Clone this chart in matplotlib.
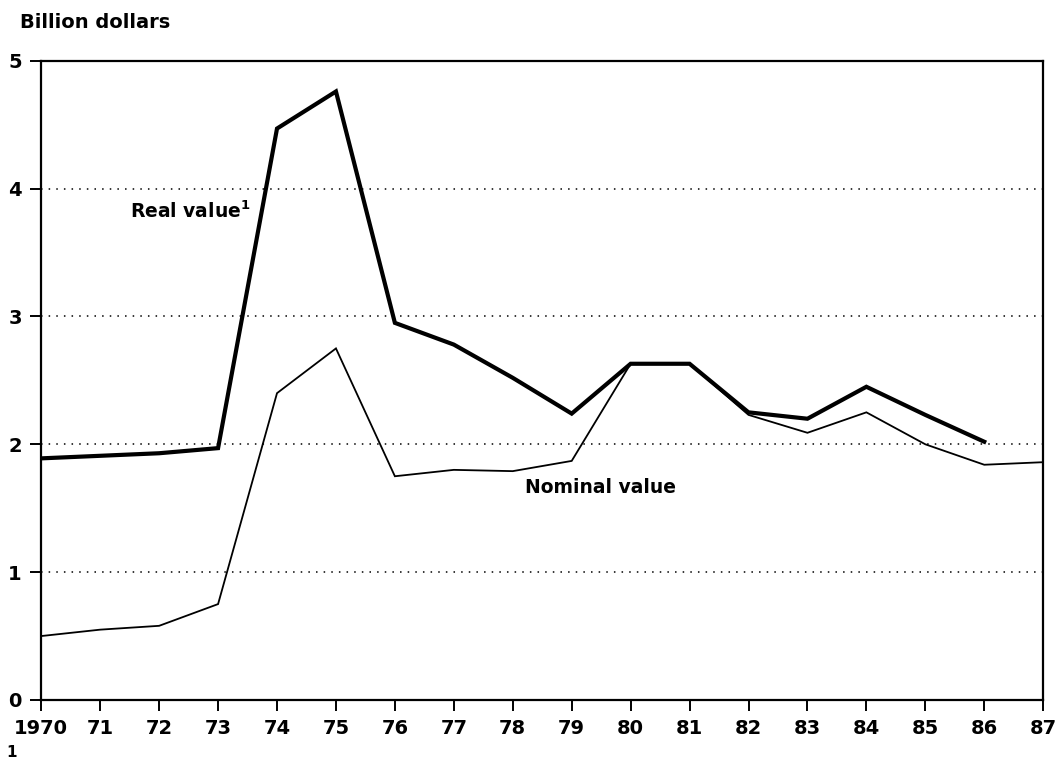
import matplotlib
matplotlib.use("Agg")
import matplotlib.pyplot as plt

years = list(range(1970, 1988))
tick_labels = ["1970", "71", "72", "73", "74", "75", "76", "77", "78", "79",
               "80", "81", "82", "83", "84", "85", "86", "87"]

real_years = list(range(1970, 1987))
real_value = [1.89, 1.91, 1.93, 1.97, 4.47, 4.76, 2.95, 2.78, 2.52, 2.24,
              2.63, 2.63, 2.25, 2.20, 2.45, 2.23, 2.02]

nominal_years = list(range(1970, 1988))
nominal_value = [0.50, 0.55, 0.58, 0.75, 2.40, 2.75, 1.75, 1.80, 1.79, 1.87,
                 2.63, 2.63, 2.23, 2.09, 2.25, 2.00, 1.84, 1.86]

y_ticks = [0, 1, 2, 3, 4, 5]

plt.rcParams['font.family'] = ['DejaVu Sans']

fig = plt.figure(figsize=(10.58, 7.60), dpi=100)
ax = fig.add_axes([0.039, 0.079, 0.947, 0.841])

ax.plot(nominal_years, nominal_value, color='black', lw=1.3, solid_joinstyle='miter')
ax.plot(real_years, real_value, color='black', lw=3.0, solid_joinstyle='miter')

ax.set_xlim(1970, 1987)
ax.set_ylim(0, 5)
ax.set_xticks(years)
ax.set_xticklabels(tick_labels)
ax.set_yticks(y_ticks)

for v in [1, 2, 3, 4]:
    ax.axhline(v, color='black', lw=1.1, ls=(0, (1, 4)), zorder=0)

for s in ax.spines.values():
    s.set_linewidth(1.6)
    s.set_color('black')

ax.tick_params(axis='both', direction='out', length=8, width=1.4, colors='black',
               labelsize=14, pad=6)
for lab in ax.get_xticklabels() + ax.get_yticklabels():
    lab.set_fontweight('bold')

fig.text(0.019, 0.971, "Billion dollars", fontsize=14, fontweight='bold', va='center', ha='left')

ax.text(1971.5, 3.82, "Real value$^\\mathbf{1}$", fontsize=13.5, fontweight='bold', va='center', ha='left')
ax.text(1978.2, 1.66, "Nominal value", fontsize=13.5, fontweight='bold', va='center', ha='left')

fig.text(0.006, 0.0, "1", fontsize=11, fontweight='bold', va='bottom', ha='left')

fig.savefig("out.png", dpi=100, facecolor='white')
